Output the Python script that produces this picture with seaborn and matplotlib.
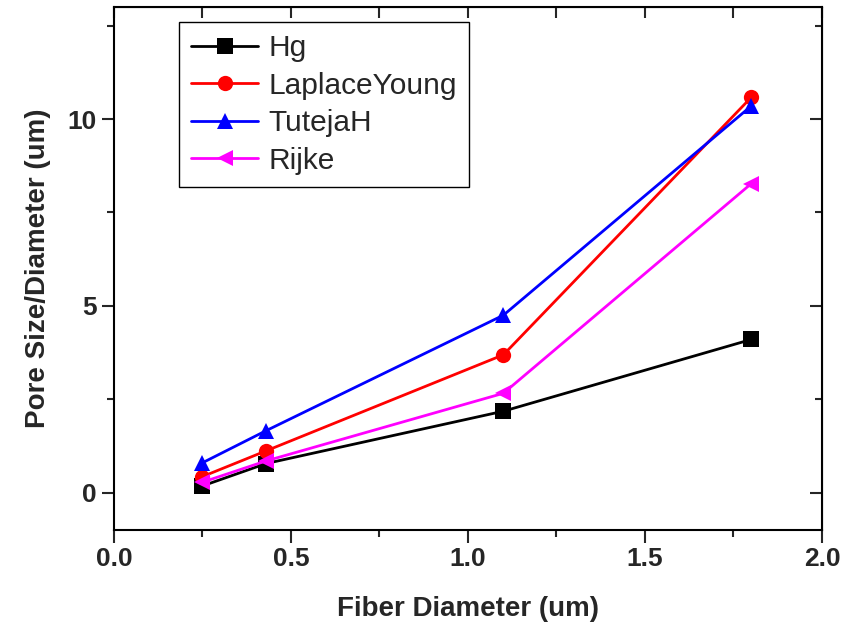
import pandas as pd
import matplotlib
matplotlib.use("Agg")
import matplotlib.pyplot as plt
import seaborn as sns
from matplotlib.ticker import MultipleLocator

# fibre diameter (um) and pore size per method
fiber_diameter = [0.25, 0.43, 1.1, 1.8]
hg = [0.18, 0.78, 2.18, 4.1]
laplace_young = [0.43, 1.12, 3.69, 10.58]
tuteja_h = [0.8, 1.66, 4.75, 10.35]
rijke = [0.28, 0.85, 2.66, 8.27]

series_names = ["Hg", "LaplaceYoung", "TutejaH", "Rijke"]
series_values = [hg, laplace_young, tuteja_h, rijke]
colors = ["#000000", "#ff0000", "#0000ff", "#ff00ff"]
markers = ["s", "o", "^", "<"]

sns.set_style("ticks")
plt.rcParams["font.family"] = ["Liberation Sans", "DejaVu Sans"]

rows = []
for name, vals in zip(series_names, series_values):
    for x, y in zip(fiber_diameter, vals):
        rows.append({"Fiber Diameter": x, "Pore Size": y, "Method": name})
df = pd.DataFrame(rows)

fig = plt.figure(figsize=(8.53, 6.24), dpi=100)
ax = fig.add_axes([114 / 853, 1 - 530 / 624, 708 / 853, 523 / 624])

sns.lineplot(
    data=df, x="Fiber Diameter", y="Pore Size",
    hue="Method", style="Method", hue_order=series_names, style_order=series_names,
    palette=dict(zip(series_names, colors)),
    markers=dict(zip(series_names, markers)), dashes=False,
    linewidth=2.0, markersize=11, markeredgewidth=0, ax=ax,
)

ax.set_xlim(0, 2.0)
ax.set_ylim(-1, 13)
ax.xaxis.set_major_locator(MultipleLocator(0.5))
ax.xaxis.set_minor_locator(MultipleLocator(0.25))
ax.yaxis.set_major_locator(MultipleLocator(5))
ax.yaxis.set_minor_locator(MultipleLocator(2.5))
ax.xaxis.set_major_formatter(matplotlib.ticker.FormatStrFormatter("%.1f"))

for sp in ax.spines.values():
    sp.set_visible(True)
    sp.set_linewidth(1.5)
    sp.set_color("black")

ax.tick_params(which="major", direction="out", length=9, width=1.5, labelsize=19)
ax.tick_params(which="minor", direction="out", length=5, width=1.5)
for lab in ax.get_xticklabels() + ax.get_yticklabels():
    lab.set_fontweight("bold")

# mirrored ticks on top and right, pointing inward
top = ax.secondary_xaxis("top")
top.xaxis.set_major_locator(MultipleLocator(0.25))
top.tick_params(which="major", direction="in", length=8, width=1.5, labeltop=False)
right = ax.secondary_yaxis("right")
right.yaxis.set_major_locator(MultipleLocator(5))
right.yaxis.set_minor_locator(MultipleLocator(2.5))
right.tick_params(which="major", direction="in", length=9, width=1.5, labelright=False)
right.tick_params(which="minor", direction="in", length=5, width=1.5)

ax.set_xlabel("Fiber Diameter (um)", fontsize=20, fontweight="bold", labelpad=18)
ax.set_ylabel("Pore Size/Diameter (um)", fontsize=20, fontweight="bold", labelpad=12)

leg = ax.get_legend()
handles = leg.legend_handles
labels = [t.get_text() for t in leg.get_texts()]
leg.remove()
for h in handles:
    h.set_linewidth(2.0)
    h.set_markersize(11)
    h.set_markeredgewidth(0)
ax.legend(
    handles, labels, loc="upper left", bbox_to_anchor=(0.092, 0.971),
    borderaxespad=0, fontsize=21.5, frameon=True, fancybox=False,
    edgecolor="black", framealpha=1, handlelength=2.25, labelspacing=0.32,
    handletextpad=0.35, borderpad=0.4,
)
ax.get_legend().get_frame().set_linewidth(1.0)

fig.savefig("out.png", dpi=100)
